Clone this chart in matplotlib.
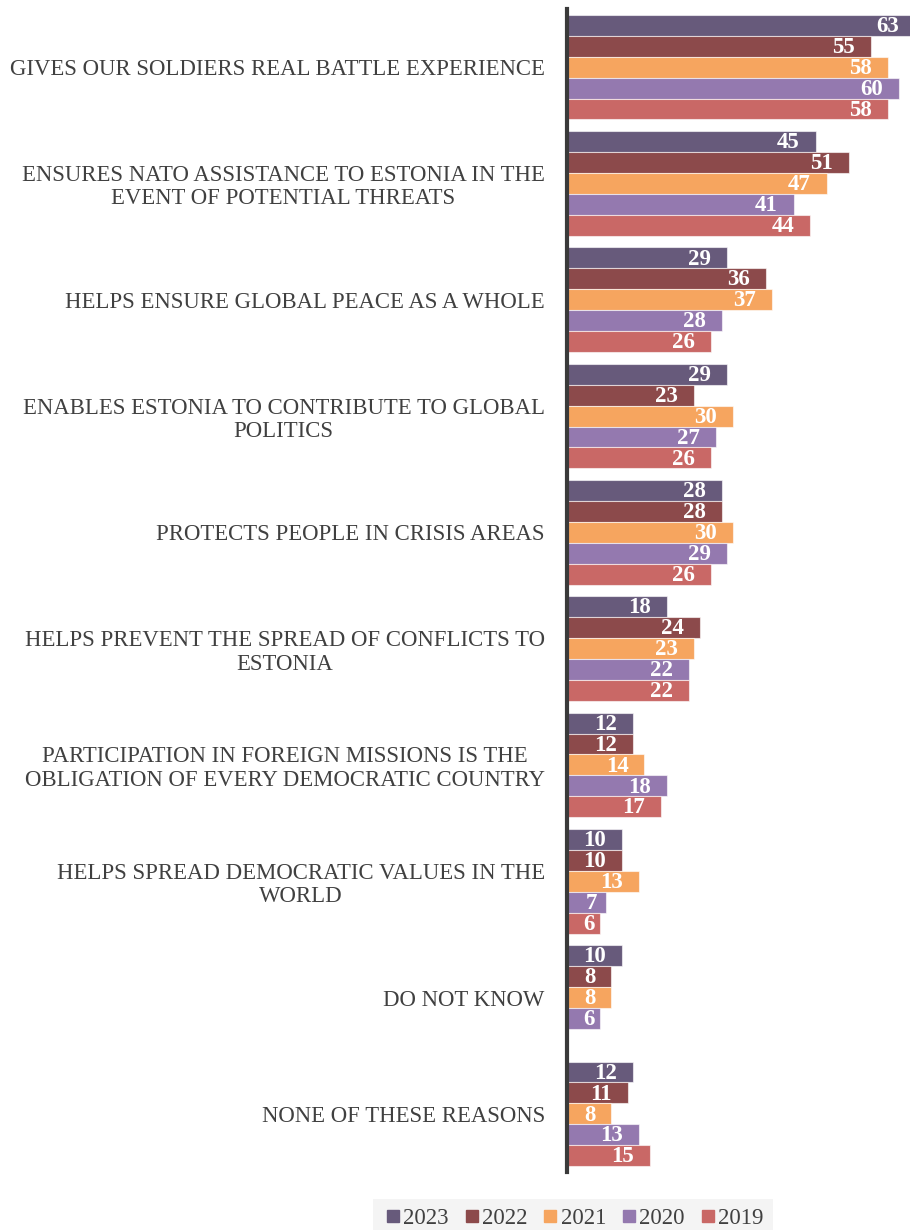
import numpy as np
import matplotlib.pyplot as plt
from matplotlib.lines import Line2D

plt.rcParams['font.family'] = ['Liberation Serif', 'DejaVu Serif']

categories = [
    "GIVES OUR SOLDIERS REAL BATTLE EXPERIENCE",
    "ENSURES NATO ASSISTANCE TO ESTONIA IN THE\nEVENT OF POTENTIAL THREATS",
    "HELPS ENSURE GLOBAL PEACE AS A WHOLE",
    "ENABLES ESTONIA TO CONTRIBUTE TO GLOBAL\nPOLITICS",
    "PROTECTS PEOPLE IN CRISIS AREAS",
    "HELPS PREVENT THE SPREAD OF CONFLICTS TO\nESTONIA",
    "PARTICIPATION IN FOREIGN MISSIONS IS THE\nOBLIGATION OF EVERY DEMOCRATIC COUNTRY",
    "HELPS SPREAD DEMOCRATIC VALUES IN THE\nWORLD",
    "DO NOT KNOW",
    "NONE OF THESE REASONS",
]
years = ["2023", "2022", "2021", "2020", "2019"]
v2023 = [63, 45, 29, 29, 28, 18, 12, 10, 10, 12]
v2022 = [55, 51, 36, 23, 28, 24, 12, 10, 8, 11]
v2021 = [58, 47, 37, 30, 30, 23, 14, 13, 8, 8]
v2020 = [60, 41, 28, 27, 29, 22, 18, 7, 6, 13]
v2019 = [58, 44, 26, 26, 26, 22, 17, 6, None, 15]
series = [v2023, v2022, v2021, v2020, v2019]
colors = ["#675a7b", "#8c4a4b", "#f6a55f", "#9479af", "#c96866"]
text_color = "#404040"

fig = plt.figure(figsize=(9.1, 12.3), dpi=100)
ax = fig.add_axes([567 / 910, 58 / 1230, 343 / 910, 1163 / 1230])

y = np.arange(len(categories))
h = 0.18
for j, (vals, c) in enumerate(zip(series, colors)):
    for i, v in enumerate(vals):
        if v is None:
            continue
        yy = y[i] + (j - 2) * h
        ax.barh(yy, v, height=h, color=c, edgecolor=(1, 1, 1, 0.6), linewidth=0.8)
        xt = max(v - 2.9, v / 2 + 1.0)
        ax.text(xt, yy + 0.01, str(v), ha="right" if v > 7 else "center", va="center",
                color="white", fontsize=16.5, fontweight="bold")

ax.set_xlim(0, 62)
ax.set_ylim(len(categories) - 0.5, -0.5)
ax.set_xticks([])
ax.set_yticks(y)
ax.set_yticklabels(categories, fontsize=16.4, color=text_color, linespacing=1.15)
for lbl in ax.get_yticklabels():
    lbl.set_multialignment("center")
ax.tick_params(axis="y", length=0, pad=16)
for s in ["top", "right", "bottom"]:
    ax.spines[s].set_visible(False)
ax.spines["left"].set_color("#3a3a3a")
ax.spines["left"].set_linewidth(3)

handles = [Line2D([], [], marker="s", linestyle="none", color=c, markersize=8) for c in colors]
leg = fig.legend(handles, years, loc="lower center", bbox_to_anchor=(573 / 910, -0.016),
                 ncol=5, frameon=True, fontsize=16.5, handletextpad=0.0, columnspacing=0.55,
                 borderpad=0.4, handlelength=0.9)
leg.get_frame().set_facecolor("#f2f2f2")
leg.get_frame().set_edgecolor("none")
leg.get_frame().set_boxstyle("square", pad=0)
for t in leg.get_texts():
    t.set_color(text_color)

fig.savefig("out.png", dpi=100)
